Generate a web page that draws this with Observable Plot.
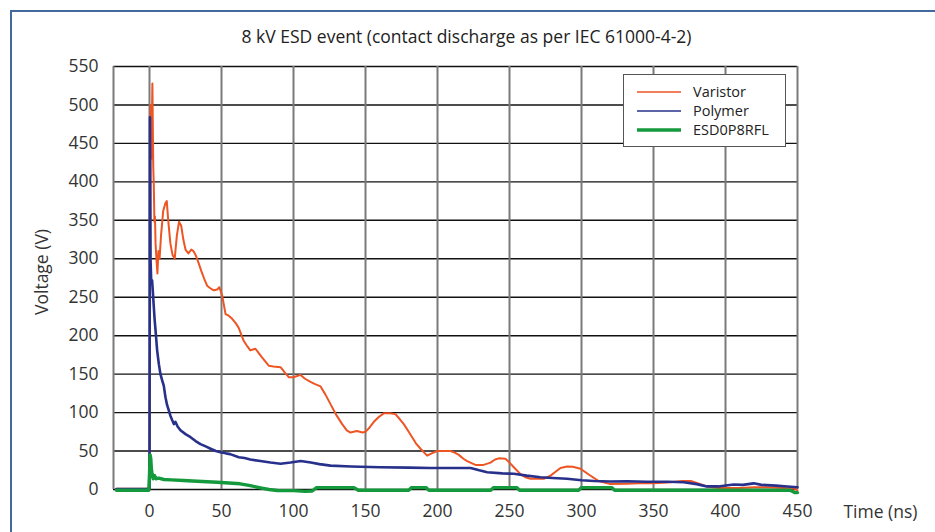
<!DOCTYPE html>
<html>
<head>
<meta charset="utf-8">
<script src="https://cdn.jsdelivr.net/npm/d3@7"></script>
<script src="https://cdn.jsdelivr.net/npm/@observablehq/plot@0.6"></script>
<style>
  html, body { margin: 0; padding: 0; background: #fff; }
  #wrap { position: relative; width: 935px; height: 532px; overflow: hidden; font-family: "Open Sans", sans-serif; }
  #border { position: absolute; left: 10px; top: 10px; right: -5px; bottom: -5px; border-top: 2px solid #44699e; border-left: 2px solid #44699e; pointer-events: none; }
  #legend { position: absolute; left: 623px; top: 74px; width: 163px; height: 73px; background: #fff; border: 1px solid #555; box-sizing: border-box; }
</style>
</head>
<body>
<div id="wrap">
  <div id="chart"></div>
  <div id="border"></div>
  <svg id="legend" width="163" height="73"></svg>
</div>
<script>
// ---- data (time in ns, voltage in V) ----
const seriesNames = ["Varistor", "Polymer", "ESD0P8RFL"];
const seriesColors = ["#ee5524", "#27308a", "#14993c"];

const varistorT = [-23, -2, 0, 0.8, 1.3, 2.0, 2.6, 3.0, 3.4, 3.8, 4.2, 4.8, 5.5, 6.2, 7, 8, 9.5, 11, 12, 13, 14.5, 16, 17.5, 19, 20.5, 22, 23.5, 25, 27, 29, 30.5, 32, 34, 36, 38, 40, 42, 44.6, 47, 48.5, 50.5, 52.8, 55, 57.4, 60, 62, 64, 65.5, 68, 70, 73.6, 76, 78, 82.8, 86, 91, 94, 96.7, 100, 104.9, 108, 111.8, 115, 118.8, 122, 125.7, 130, 133.8, 137, 139.6, 144, 148, 150, 153, 155.8, 159, 162.7, 167, 170.8, 174, 176.6, 180, 182.4, 185, 188.2, 192.8, 196, 199.8, 205, 209, 212, 214.8, 218, 220.6, 224, 226.4, 232, 236.8, 240, 242.6, 247.2, 250, 253, 257.6, 261, 264.6, 273.8, 278.5, 282, 285.4, 290, 294, 299.3, 305, 312, 320, 331.7, 340, 350, 360, 370, 376, 381, 387, 395, 410, 420, 430, 440, 448, 450];
const varistorV = [1, 1, 3, 500, 430, 528, 420, 395, 348, 355, 320, 300, 281, 310, 300, 330, 362, 372, 375, 350, 320, 305, 300, 330, 348, 343, 325, 312, 307, 312, 310, 305, 295, 284, 274, 265, 262, 259, 260, 263, 252, 228, 226, 222, 216, 210, 200, 193, 186, 181, 183, 177, 172, 161, 160, 159, 152, 146, 146, 149, 144, 140, 137, 134, 124, 111, 96, 85, 77, 74, 76, 74, 75, 81, 88, 94, 99, 99, 98, 91, 85, 75, 68, 60, 53, 44, 47, 50, 50, 50, 48, 45, 40, 37, 34, 32, 32, 35, 39, 40.5, 40, 35, 29, 20, 16, 14, 14, 18, 23, 28, 30, 29.5, 27, 19.5, 11, 7, 7.5, 8, 8, 9, 11, 11, 8, 4, 2, 2, 3, 3, 2, 1, -1];

const polymerT = [-23, -1, 0, 0.3, 0.7, 1.2, 1.8, 2.4, 3, 3.6, 4.2, 5.3, 6.5, 7.6, 8.8, 9.9, 11.1, 12.2, 13.4, 14.5, 15.8, 17, 18, 19.5, 21.5, 25, 28.5, 32, 35.4, 39, 42.4, 46, 49.3, 53, 56, 62, 66, 70, 77, 84, 91, 98, 105, 112, 118, 125.7, 140, 160, 180, 195, 210, 223, 229, 234.5, 245, 253, 262, 271.5, 280, 290, 300, 308.6, 320, 331.7, 345, 360, 371, 380, 387, 395, 405.6, 412, 419.6, 425, 435, 442.8, 450];
const polymerV = [0.5, 0.5, 1, 484, 300, 270, 272, 255, 237, 220, 207, 181, 163, 150, 142, 135, 120, 110, 103, 96, 90, 85, 88, 82, 77, 72, 68, 63, 59, 56, 53, 50, 48.5, 47, 46, 42, 41, 39, 37, 35, 33.5, 35, 37, 35, 33, 31, 30, 29, 28.5, 28, 28, 28, 25, 22.5, 21, 20.4, 18, 16, 15, 14, 12, 11, 10.5, 10.8, 10, 10, 9.5, 7, 4, 4, 6.5, 6, 8, 6, 5, 4, 3];

const esdT = [-23, -0.5, 0, 0.4, 0.9, 1.3, 1.8, 2.5, 3.5, 4.5, 6.4, 10, 15, 23.6, 30, 40, 47, 55, 63, 70, 77, 83, 88.7, 100, 108, 113, 116, 142, 145, 180, 182, 192, 194, 237, 239, 255, 257, 298, 300, 321, 323, 445, 448, 450];
const esdV = [-1, -1, 20, 45, 40, 27, 20, 14, 18, 14, 14.7, 13, 12.5, 11.7, 11, 10, 9.5, 8.5, 7.4, 5, 2.2, 0, -1.3, -1.5, -2.5, -2, 2.5, 2.5, -1, -1, 2.5, 2.5, -1, -1, 2.5, 2.5, -1, -1, 2.5, 2.5, -1, -1, -4, -4];

const xTicks = [0, 50, 100, 150, 200, 250, 300, 350, 400, 450];
const yTicks = [0, 50, 100, 150, 200, 250, 300, 350, 400, 450, 500, 550];
const xGrid = [-25, ...xTicks];

const titleText = "8 kV ESD event (contact discharge as per IEC 61000-4-2)";
const xLabel = "Time (ns)";
const yLabel = "Voltage (V)";

// ---- build table ----
function rows(name, T, V) { return T.map((t, i) => ({series: name, t, v: V[i]})); }
const varistor = rows(seriesNames[0], varistorT, varistorV);
const polymer = rows(seriesNames[1], polymerT, polymerV);
const esd = rows(seriesNames[2], esdT, esdV);

const chart = Plot.plot({
  width: 935,
  height: 532,
  marginLeft: 113,
  marginRight: 138,
  marginTop: 66,
  marginBottom: 43,
  style: {fontFamily: "'Open Sans', sans-serif", fontSize: "17px", color: "#333", background: "#fff"},
  x: {domain: [-25, 450], label: null},
  y: {domain: [0, 550], label: null},
  marks: [
    Plot.ruleY(yTicks, {stroke: "#111", strokeWidth: 1.4}),
    Plot.ruleX(xGrid, {stroke: "#7a7a7a", strokeWidth: 2}),
    Plot.axisX({ticks: xTicks, tickSize: 0, tickPadding: 15, fontSize: 17.5, fill: "#333"}),
    Plot.axisY({ticks: yTicks, tickSize: 0, tickPadding: 15, fontSize: 17.5, fill: "#333"}),
    Plot.line(varistor, {x: "t", y: "v", stroke: seriesColors[0], strokeWidth: 2, curve: "linear"}),
    Plot.line(polymer, {x: "t", y: "v", stroke: seriesColors[1], strokeWidth: 2.6, curve: "linear"}),
    Plot.line(esd, {x: "t", y: "v", stroke: seriesColors[2], strokeWidth: 3.4, curve: "linear"}),
    Plot.text([titleText], {frameAnchor: "top", lineAnchor: "middle", dx: 11, dy: -29, fontSize: 17.5, fill: "#222", textAnchor: "middle"}),
    Plot.text([xLabel], {frameAnchor: "bottom-right", lineAnchor: "middle", dx: 83, dy: 23, fontSize: 17.5, fill: "#333", textAnchor: "middle"}),
    Plot.text([yLabel], {frameAnchor: "left", lineAnchor: "middle", dx: -71, dy: -6, rotate: -90, fontSize: 17.5, fill: "#333", textAnchor: "middle"})
  ]
});
document.getElementById("chart").appendChild(chart);

// ---- legend ----
const leg = d3.select("#legend");
seriesNames.forEach((name, i) => {
  const y = 17 + i * 19;
  leg.append("line").attr("x1", 13).attr("x2", 57).attr("y1", y).attr("y2", y)
    .attr("stroke", seriesColors[i]).attr("stroke-width", i === 2 ? 3.5 : 1.6);
  leg.append("text").attr("x", 69).attr("y", y).attr("dy", "0.35em")
    .attr("font-size", 14.5).attr("fill", "#222").attr("font-family", "'Open Sans', sans-serif").text(name);
});
</script>
</body>
</html>
